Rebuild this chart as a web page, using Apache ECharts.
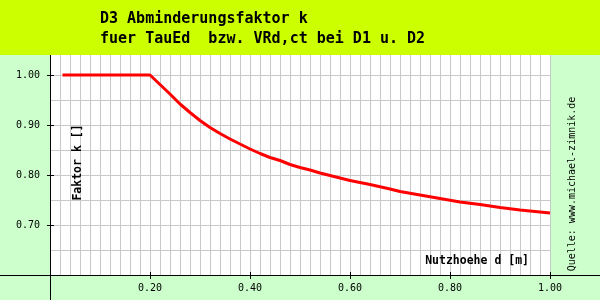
<!DOCTYPE html>
<html><head><meta charset="utf-8">
<script src="https://cdn.jsdelivr.net/npm/echarts@6/dist/echarts.min.js"></script>
<style>html,body{margin:0;padding:0;background:#ccffcc}#c{width:600px;height:300px}</style>
</head><body><div id="c"></div>
<script>
const titleLines = ['D3 Abminderungsfaktor k', 'fuer TauEd  bzw. VRd,ct bei D1 u. D2'];
const xName = 'Nutzhoehe d [m]';
const yName = 'Faktor k []';
const sourceText = 'Quelle: www.michael-zimnik.de';
const depth = [0.025, 0.20, 0.22, 0.24, 0.26, 0.28, 0.30, 0.32, 0.34, 0.36, 0.38, 0.40, 0.42, 0.44, 0.46, 0.48, 0.50, 0.52, 0.54, 0.56, 0.58, 0.60, 0.64, 0.68, 0.70, 0.74, 0.78, 0.82, 0.86, 0.90, 0.94, 0.98, 1.00];
const factor = [1.000, 1.000, 0.981, 0.962, 0.942, 0.925, 0.909, 0.895, 0.883, 0.872, 0.862, 0.852, 0.843, 0.835, 0.829, 0.821, 0.815, 0.810, 0.804, 0.799, 0.794, 0.789, 0.781, 0.772, 0.767, 0.760, 0.753, 0.746, 0.741, 0.735, 0.730, 0.726, 0.724];
const xRange = [0, 1];
const yRange = [0.6, 1.05];
const xTickStep = 0.2, xGridStep = 0.02;
const yTickStep = 0.1, yGridStep = 0.05;

const mono = 'DejaVu Sans Mono';
const chart = echarts.init(document.getElementById('c'), null, {renderer: 'canvas'});
const fmt = v => (Math.abs(v / yTickStep - Math.round(v / yTickStep)) < 1e-6 ? v.toFixed(2) : '');
const fmtX = v => (Math.abs(v / xTickStep - Math.round(v / xTickStep)) < 1e-6 ? v.toFixed(2) : '');

chart.setOption({
  backgroundColor: '#ccffcc',
  animation: false,
  title: {
    text: titleLines.join('\n'), left: 100, top: 9, padding: 0, z: 200,
    textStyle: {fontFamily: mono, fontSize: 15, fontWeight: 'bold', color: '#000', lineHeight: 20}
  },
  grid: {left: 50, right: 50, top: 50, bottom: 25, show: true, backgroundColor: '#fff', borderWidth: 0},
  xAxis: [
    {type: 'value', min: xRange[0], max: xRange[1], interval: xGridStep, position: 'bottom',
     axisLine: {show: false}, axisTick: {show: false}, axisLabel: {show: false},
     splitLine: {show: true, lineStyle: {color: '#c8c8c8', width: 1}}},
    {type: 'value', min: xRange[0], max: xRange[1], interval: xTickStep, position: 'bottom',
     axisLine: {show: true, onZero: false, lineStyle: {color: '#000', width: 1}},
     axisTick: {show: true, length: 4, lineStyle: {color: '#000'}},
     axisLabel: {show: true, formatter: fmtX, showMinLabel: false, margin: 8, fontFamily: mono, fontSize: 10, color: '#000'},
     splitLine: {show: false},
     name: xName, nameLocation: 'end', nameGap: -21,
     nameTextStyle: {fontFamily: mono, fontSize: 11.5, fontWeight: 'bold', color: '#000', align: 'right', verticalAlign: 'bottom', padding: [0, 0, 8, 0]}},
    {type: 'value', min: xRange[0], max: xRange[1], interval: xTickStep, position: 'bottom',
     axisLine: {show: false}, axisTick: {show: true, inside: true, length: 3, lineStyle: {color: '#000'}},
     axisLabel: {show: false}, splitLine: {show: false}}
  ],
  yAxis: [
    {type: 'value', min: yRange[0], max: yRange[1], interval: yGridStep, position: 'left',
     axisLine: {show: false}, axisTick: {show: false}, axisLabel: {show: false},
     splitLine: {show: true, lineStyle: {color: '#c8c8c8', width: 1}}},
    {type: 'value', min: yRange[0], max: yRange[1], interval: yTickStep, position: 'left',
     axisLine: {show: true, onZero: false, lineStyle: {color: '#000', width: 1}},
     axisTick: {show: true, length: 3, lineStyle: {color: '#000'}},
     axisLabel: {show: true, formatter: fmt, showMinLabel: false, showMaxLabel: false, margin: 10, fontFamily: mono, fontSize: 10, color: '#000'},
     splitLine: {show: false},
     name: yName, nameLocation: 'middle', nameGap: -34, nameRotate: 90,
     nameTextStyle: {fontFamily: mono, fontSize: 11.5, fontWeight: 'bold', color: '#000'}},
    {type: 'value', min: yRange[0], max: yRange[1], interval: yTickStep, position: 'left',
     axisLine: {show: false}, axisTick: {show: true, inside: true, length: 4, lineStyle: {color: '#000'}},
     axisLabel: {show: false}, splitLine: {show: false}}
  ],
  series: [{
    type: 'line', xAxisIndex: 1, yAxisIndex: 1,
    data: depth.map((x, i) => [x, factor[i]]),
    showSymbol: false, smooth: false,
    lineStyle: {color: '#ff0000', width: 3}, z: 10
  }]
});

// decorations: title band, extended axis lines, source note
const o = chart.convertToPixel({xAxisIndex: 1, yAxisIndex: 1}, [xRange[0], yRange[0]]);
const ox = Math.round(o[0]) + 0.5, oy = Math.round(o[1]) + 0.5;
const W = chart.getWidth(), H = chart.getHeight();
chart.setOption({
  graphic: [
    {type: 'rect', z: 100, shape: {x: 0, y: 0, width: W, height: 55}, style: {fill: '#ccff00'}},
    {type: 'line', z: 50, shape: {x1: 0, y1: oy, x2: W, y2: oy}, style: {stroke: '#000', lineWidth: 1}},
    {type: 'line', z: 50, shape: {x1: ox, y1: oy, x2: ox, y2: H}, style: {stroke: '#000', lineWidth: 1}},
    {type: 'text', z: 50, x: 572, y: 184, rotation: Math.PI / 2,
     style: {text: sourceText, fontFamily: mono, fontSize: 10, fill: '#000', align: 'center', verticalAlign: 'middle'}}
  ]
});
</script>
</body></html>
